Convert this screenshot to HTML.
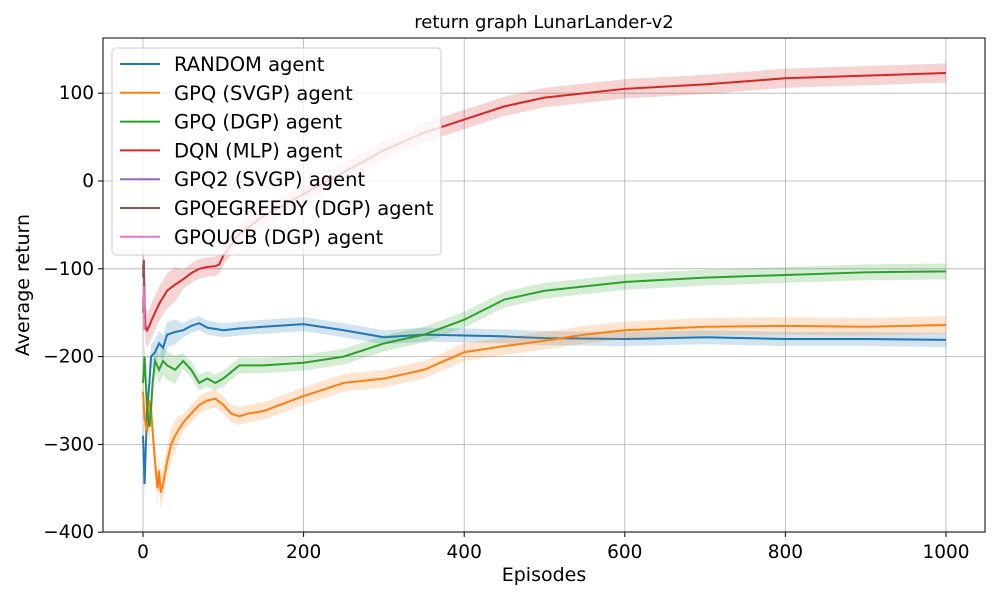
<!DOCTYPE html>
<html><head><meta charset="utf-8"><style>
body{margin:0;background:#fff}
svg text{font-family:"DejaVu Sans","Liberation Sans",sans-serif;fill:#000}
</style></head><body>
<svg id="c" width="1000" height="600"></svg>
<script>
const ranEp=[0,2,5,8,10,15,20,25,30,40,50,60,70,80,100,120,150,200,250,300,350,400,450,500,600,700,800,900,1000];
const ranVal=[-290,-345,-260,-230,-200,-195,-185,-190,-175,-172,-170,-165,-162,-167,-170,-168,-166,-163,-170,-178,-175,-176,-177,-179,-180,-178,-180,-180,-181];
const svgpEp=[0,2,5,8,10,12,15,18,20,22,25,28,30,35,40,50,60,70,80,90,100,110,120,130,150,200,250,300,350,400,450,500,550,600,650,700,800,900,1000];
const svgpVal=[-240,-270,-285,-250,-260,-285,-320,-350,-330,-355,-345,-330,-320,-300,-290,-275,-265,-255,-250,-248,-255,-265,-268,-265,-262,-245,-230,-225,-215,-195,-188,-182,-175,-170,-168,-166,-165,-166,-164];
const dgpEp=[0,2,5,8,10,12,15,20,25,30,40,50,60,70,80,90,100,120,150,200,250,300,350,400,450,500,600,700,800,900,1000];
const dgpVal=[-230,-200,-260,-280,-260,-230,-205,-215,-205,-210,-215,-205,-215,-230,-225,-230,-225,-210,-210,-207,-200,-185,-175,-158,-135,-125,-115,-110,-107,-104,-103];
const dqnEp=[0,1,2,3,5,8,10,15,20,30,40,50,60,70,80,90,95,100,120,150,200,250,300,350,400,450,500,600,700,800,900,1000];
const dqnVal=[-100,-90,-140,-165,-170,-165,-160,-150,-140,-125,-118,-112,-105,-100,-98,-97,-95,-85,-60,-40,-15,10,35,55,70,85,95,105,110,117,120,123];
const gpq2Ep=[0,1,2];const gpq2Val=[-150,-130,-160];
const egEp=[0,1,2];const egVal=[-110,-90,-150];
const ucbEp=[0,1,2];const ucbVal=[-140,-120,-170];
const xTicks=[0,200,400,600,800,1000];
const yTicks=[100,0,-100,-200,-300,-400];
const names=["RANDOM agent","GPQ (SVGP) agent","GPQ (DGP) agent","DQN (MLP) agent","GPQ2 (SVGP) agent","GPQEGREEDY (DGP) agent","GPQUCB (DGP) agent"];

const NS="http://www.w3.org/2000/svg",svg=document.getElementById('c');
const L=103,R=985,T=38,B=532;
const x=v=>143+v*0.803, y=v=>181-v*0.878;
function el(t,a,p){const e=document.createElementNS(NS,t);for(const k in a)e.setAttribute(k,a[k]);(p||svg).appendChild(e);return e;}
const clip=el('clipPath',{id:'cp'});el('rect',{x:L,y:T,width:R-L,height:B-T},clip);
xTicks.forEach(t=>{const g=el('line',{x1:x(t),x2:x(t),y1:T,y2:B,stroke:'#b0b0b0','stroke-width':0.8});

el('line',{x1:x(t),x2:x(t),y1:B,y2:B+5,stroke:'#000'});
const tx=el('text',{x:x(t),y:B+26,'text-anchor':'middle','font-size':18.5});tx.textContent=t<0?'−'+(-t):t;
});
yTicks.forEach(t=>{const g=el('line',{x1:L,x2:R,y1:y(t),y2:y(t),stroke:'#b0b0b0','stroke-width':0.8});

el('line',{x1:L-5,x2:L,y1:y(t),y2:y(t),stroke:'#000'});
const tx=el('text',{x:L-9,y:y(t)+6,'text-anchor':'end','font-size':18.5});tx.textContent=t<0?'−'+(-t):t;
});
const series=[[ranEp,ranVal,'#1f77b4',8],[svgpEp,svgpVal,'#ff7f0e',10],[dgpEp,dgpVal,'#2ca02c',9],[dqnEp,dqnVal,'#d62728',11],[gpq2Ep,gpq2Val,'#9467bd',4],[egEp,egVal,'#8c564b',4],[ucbEp,ucbVal,'#e377c2',4]];
series.forEach((s,i)=>{const [E,V,c,w]=s;
const up=E.map((e,j)=>x(e)+','+y(V[j]+w*(e<50?1.8:1))),dn=E.map((e,j)=>x(e)+','+y(V[j]-w*(e<50?1.8:1))).reverse();
const b=el('polygon',{points:up.concat(dn).join(' '),fill:c,opacity:0.2,'clip-path':'url(#cp)'});

const p=el('polyline',{points:E.map((e,j)=>x(e)+','+y(V[j])).join(' '),fill:'none',stroke:c,'stroke-width':2,'clip-path':'url(#cp)'});
});
el('rect',{x:L,y:T,width:R-L,height:B-T,fill:'none',stroke:'#000','stroke-width':1});
const lg=el('g',{});
el('rect',{x:112,y:48,width:329,height:207,rx:4,fill:'#fff','fill-opacity':0.8,stroke:'#ccc'},lg);
series.forEach((s,i)=>{const yy=64+i*28.8;
el('line',{x1:120,x2:160,y1:yy,y2:yy,stroke:s[2],'stroke-width':2},lg);
const t=el('text',{x:174,y:yy+7,'font-size':19.5},lg);t.textContent=names[i];
});
let t=el('text',{x:544,y:28,'text-anchor':'middle','font-size':18});t.textContent='return graph LunarLander-v2';

t=el('text',{x:544,y:581,'text-anchor':'middle','font-size':19});t.textContent='Episodes';

t=el('text',{x:0,y:0,'text-anchor':'middle','font-size':19,transform:'translate(29,285) rotate(-90)'});t.textContent='Average return';

</script></body></html>
